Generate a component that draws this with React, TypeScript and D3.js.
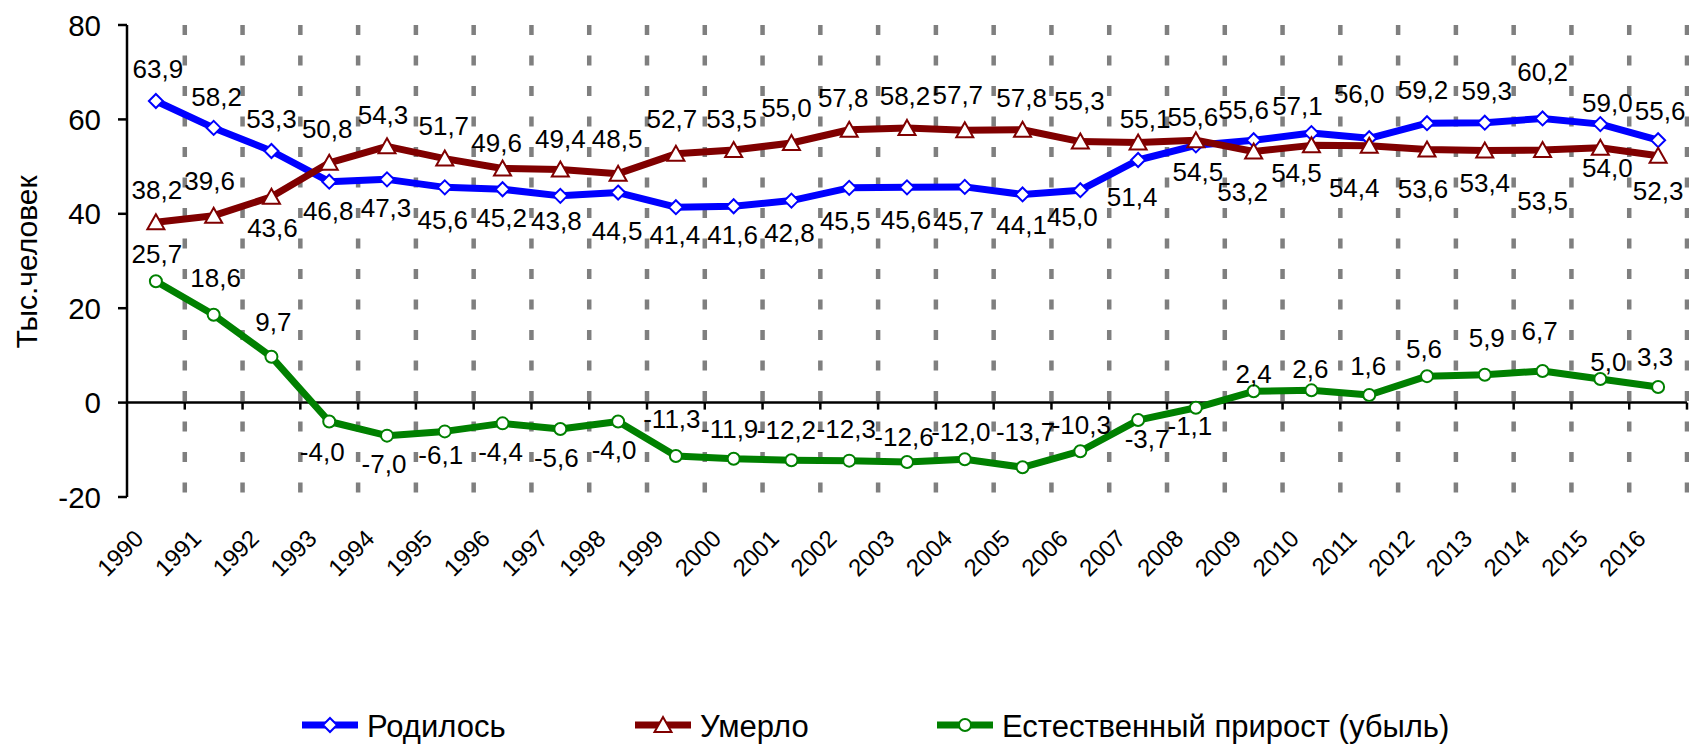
import { useRef, useEffect } from 'react';
import * as d3 from 'd3';

const years = [
  '1990', '1991', '1992', '1993', '1994', '1995', '1996', '1997', '1998', '1999',
  '2000', '2001', '2002', '2003', '2004', '2005', '2006', '2007', '2008', '2009',
  '2010', '2011', '2012', '2013', '2014', '2015', '2016',
];

// Родилось
const born = [
  63.9, 58.2, 53.3, 46.8, 47.3, 45.6, 45.2, 43.8, 44.5, 41.4,
  41.6, 42.8, 45.5, 45.6, 45.7, 44.1, 45.0, 51.4, 54.5, 55.6,
  57.1, 56.0, 59.2, 59.3, 60.2, 59.0, 55.6,
];

// Умерло
const died = [
  38.2, 39.6, 43.6, 50.8, 54.3, 51.7, 49.6, 49.4, 48.5, 52.7,
  53.5, 55.0, 57.8, 58.2, 57.7, 57.8, 55.3, 55.1, 55.6, 53.2,
  54.5, 54.4, 53.6, 53.4, 53.5, 54.0, 52.3,
];

// Естественный прирост (убыль)
const natural = [
  25.7, 18.6, 9.7, -4.0, -7.0, -6.1, -4.4, -5.6, -4.0, -11.3,
  -11.9, -12.2, -12.3, -12.6, -12.0, -13.7, -10.3, -3.7, -1.1, 2.4,
  2.6, 1.6, 5.6, 5.9, 6.7, 5.0, 3.3,
];

const yTicks = [-20, 0, 20, 40, 60, 80];

// data label placement relative to its point (px): baseline offset and horizontal shift
const bornDy = [-23, -22, -23, 38, 38, 42, 38, 34, 47, 37, 38, 41, 42, 42, 43, 40, 36, 46, 36, -21, -18, -35, -24, -23, -37, -12, -20];
const bornDx = [2, 3, 0, -1, -1, -2, -1, -4, -1, -1, -1, -2, -4, -1, -6, -1, -8, -6, 2, -10, -14, -10, -4, 2, 0, 7, 2];
const diedDy = [-23, -26, 40, -25, -22, -24, -16, -21, -26, -26, -22, -26, -23, -23, -26, -23, -32, -15, -14, 50, 37, 51, 48, 41, 60, 29, 44];
const diedDx = [1, -4, 1, -2, -4, -1, -6, 0, -1, -4, -2, -5, -6, -2, -7, -1, -1, 7, -3, -11, -15, -15, -4, 0, 0, 7, 0];
const natDy = [-18, -28, -26, 40, 37, 33, 38, 38, 38, -28, -21, -21, -23, -16, -18, -26, -17, 28, 27, -8, -12, -20, -18, -28, -31, -8, -21];
const natDx = [1, 2, 2, -7, -3, -4, -2, -4, -4, -4, -4, -5, -3, -3, -4, 3, 1, 9, -6, 0, -1, -1, -3, 2, -3, 8, -3];

const W = 1689;
const H = 744;
const FONT = "'Liberation Sans', Arial, sans-serif";

type Marker = 'diamond' | 'triangle' | 'circle';

const series = [
  { name: 'Родилось', values: born, color: '#0000ff', marker: 'diamond' as Marker, dy: bornDy, dx: bornDx, legendX: 302 },
  { name: 'Умерло', values: died, color: '#800000', marker: 'triangle' as Marker, dy: diedDy, dx: diedDx, legendX: 635 },
  { name: 'Естественный прирост (убыль)', values: natural, color: '#008000', marker: 'circle' as Marker, dy: natDy, dx: natDx, legendX: 937 },
];

function fmt(v: number): string {
  return v.toFixed(1).replace('.', ',');
}

function drawMarker(
  g: d3.Selection<SVGGElement, unknown, null, undefined>,
  kind: Marker,
  px: number,
  py: number,
  color: string,
) {
  if (kind === 'circle') {
    g.append('circle')
      .attr('cx', px).attr('cy', py).attr('r', 6)
      .attr('fill', '#fff').attr('stroke', color).attr('stroke-width', 2);
  } else if (kind === 'diamond') {
    g.append('path')
      .attr('d', `M${px},${py - 7}L${px + 7},${py}L${px},${py + 7}L${px - 7},${py}Z`)
      .attr('fill', '#fff').attr('stroke', color).attr('stroke-width', 2);
  } else {
    g.append('path')
      .attr('d', `M${px},${py - 8}L${px + 8.5},${py + 7}L${px - 8.5},${py + 7}Z`)
      .attr('fill', '#fff').attr('stroke', color).attr('stroke-width', 2);
  }
}

export default function App() {
  const svgRef = useRef<SVGSVGElement>(null);

  useEffect(() => {
    if (!svgRef.current) return;
    const svg = d3.select(svgRef.current);
    svg.selectAll('*').remove();

    const x = d3.scaleBand<string>().domain(years).range([127, 1687]).padding(0);
    const y = d3.scaleLinear().domain([-20, 80]).range([497, 25]);
    const bw = x.bandwidth();
    const cx = (i: number) => (x(years[i]) ?? 0) + bw / 2;
    const bounds = years.map((yr) => (x(yr) ?? 0) + bw);

    const root = svg.append('g');

    // dashed vertical grid at category boundaries
    root.append('g')
      .selectAll('line')
      .data(bounds)
      .enter()
      .append('line')
      .attr('x1', (d) => d).attr('x2', (d) => d)
      .attr('y1', y(80)).attr('y2', y(-20))
      .attr('stroke', '#7f7f7f')
      .attr('stroke-width', 4.5)
      .attr('stroke-dasharray', '10,20.5');

    // Y axis
    const yAxis = root.append('g');
    yAxis.append('line')
      .attr('x1', 127).attr('x2', 127)
      .attr('y1', y(80)).attr('y2', y(-20))
      .attr('stroke', '#000').attr('stroke-width', 2.5);
    yTicks.forEach((t) => {
      yAxis.append('line')
        .attr('x1', 118).attr('x2', 127)
        .attr('y1', y(t)).attr('y2', y(t))
        .attr('stroke', '#000').attr('stroke-width', 2.5);
      yAxis.append('text')
        .attr('x', 101).attr('y', y(t) + 10.5)
        .attr('text-anchor', 'end')
        .attr('font-family', FONT).attr('font-size', 29.5)
        .attr('fill', '#000')
        .text(String(t));
    });

    // X axis at zero
    const xAxis = root.append('g');
    xAxis.append('line')
      .attr('x1', 127).attr('x2', 1687)
      .attr('y1', y(0)).attr('y2', y(0))
      .attr('stroke', '#000').attr('stroke-width', 2.5);
    bounds.forEach((b) => {
      xAxis.append('line')
        .attr('x1', b).attr('x2', b)
        .attr('y1', y(0)).attr('y2', y(0) + 7)
        .attr('stroke', '#000').attr('stroke-width', 2.5);
    });
    years.forEach((yr, i) => {
      xAxis.append('text')
        .attr('transform', `translate(${cx(i) - 11},540) rotate(-45)`)
        .attr('text-anchor', 'end')
        .attr('font-family', FONT).attr('font-size', 24)
        .attr('fill', '#000')
        .text(yr);
    });

    // Y title
    root.append('text')
      .attr('transform', 'translate(37,262) rotate(-90)')
      .attr('text-anchor', 'middle')
      .attr('font-family', FONT).attr('font-size', 30)
      .attr('fill', '#000')
      .text('Тыс.человек');

    // series lines + markers
    const line = d3.line<number>()
      .x((_, i) => cx(i))
      .y((d) => y(d));

    series.forEach((s) => {
      const g = root.append('g');
      g.append('path')
        .datum(s.values)
        .attr('d', line)
        .attr('fill', 'none')
        .attr('stroke', s.color)
        .attr('stroke-width', 7)
        .attr('stroke-linejoin', 'round');
      s.values.forEach((v, i) => drawMarker(g, s.marker, cx(i), y(v), s.color));
    });

    // data labels
    series.forEach((s) => {
      root.append('g')
        .selectAll('text')
        .data(s.values)
        .enter()
        .append('text')
        .attr('x', (_, i) => cx(i) + s.dx[i])
        .attr('y', (d, i) => y(d) + s.dy[i])
        .attr('text-anchor', 'middle')
        .attr('font-family', FONT).attr('font-size', 26)
        .attr('fill', '#000')
        .text((d) => fmt(d));
    });

    // legend
    const ly = 725;
    series.forEach((s) => {
      const lg = root.append('g');
      lg.append('line')
        .attr('x1', s.legendX).attr('x2', s.legendX + 56)
        .attr('y1', ly).attr('y2', ly)
        .attr('stroke', s.color).attr('stroke-width', 7);
      drawMarker(lg, s.marker, s.legendX + 28, ly, s.color);
      lg.append('text')
        .attr('x', s.legendX + 65).attr('y', ly + 12)
        .attr('font-family', FONT).attr('font-size', 31)
        .attr('fill', '#000')
        .text(s.name);
    });
  }, []);

  return (
    <div style={{ position: 'absolute', left: 0, top: 0 }}>
      <svg ref={svgRef} width={W} height={H} style={{ display: 'block', background: '#fff' }} />
    </div>
  );
}
